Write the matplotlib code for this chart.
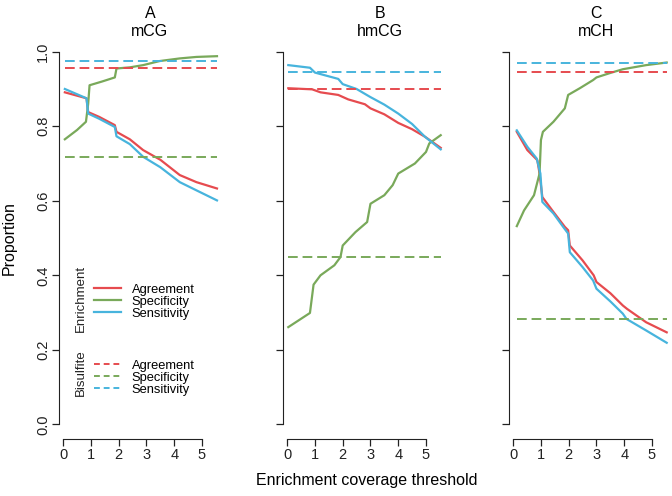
import matplotlib
matplotlib.use('Agg')
import matplotlib.pyplot as plt
from matplotlib.lines import Line2D

plt.rcParams['font.family'] = ['Liberation Sans', 'DejaVu Sans']

panels = ['A\nmCG', 'B\nhmCG', 'C\nmCH']
red = '#E64B4F'
green = '#79A95A'
blue = '#47B4DD'

# bisulfite reference levels (agreement, specificity, sensitivity)
bis_agree = [0.956, 0.900, 0.945]
bis_spec = [0.718, 0.448, 0.283]
bis_sens = [0.975, 0.946, 0.969]

# panel A - mCG
a_agree_x = [0.06, 0.84, 0.9, 1.3, 1.86, 1.92, 2.4, 2.88, 3.5, 4.2, 4.8, 5.54]
a_agree_y = [0.891, 0.875, 0.838, 0.825, 0.803, 0.785, 0.765, 0.736, 0.710, 0.669, 0.650, 0.633]
a_spec_x = [0.06, 0.5, 0.82, 0.9, 0.95, 1.4, 1.86, 1.92, 2.4, 2.88, 3.48, 4.2, 4.8, 5.54]
a_spec_y = [0.765, 0.790, 0.812, 0.860, 0.910, 0.920, 0.931, 0.955, 0.958, 0.964, 0.975, 0.982, 0.986, 0.988]
a_sens_x = [0.06, 0.84, 0.9, 1.3, 1.86, 1.92, 2.4, 2.88, 3.5, 4.2, 4.8, 5.54]
a_sens_y = [0.900, 0.875, 0.834, 0.820, 0.798, 0.773, 0.752, 0.718, 0.690, 0.650, 0.628, 0.601]

# panel B - hmCG
b_agree_x = [0.04, 0.9, 1.2, 1.84, 2.2, 2.8, 3.0, 3.5, 4.0, 4.5, 4.96, 5.53]
b_agree_y = [0.902, 0.899, 0.891, 0.884, 0.872, 0.859, 0.848, 0.832, 0.809, 0.792, 0.772, 0.742]
b_spec_x = [0.04, 0.82, 0.95, 1.2, 1.7, 1.92, 2.0, 2.46, 2.88, 3.0, 3.5, 3.8, 4.0, 4.6, 5.0, 5.12, 5.53]
b_spec_y = [0.261, 0.299, 0.375, 0.400, 0.427, 0.449, 0.480, 0.516, 0.543, 0.592, 0.615, 0.642, 0.673, 0.700, 0.731, 0.754, 0.776]
b_sens_x = [0.04, 0.82, 1.0, 1.84, 2.0, 2.5, 2.98, 3.5, 4.0, 4.5, 4.96, 5.53]
b_sens_y = [0.964, 0.957, 0.944, 0.927, 0.913, 0.900, 0.879, 0.858, 0.834, 0.806, 0.772, 0.738]

# panel C - mCH
c_agree_x = [0.13, 0.51, 0.87, 0.95, 1.05, 1.45, 1.86, 1.98, 2.04, 2.5, 2.9, 3.0, 3.5, 3.95, 4.1, 4.79, 5.53]
c_agree_y = [0.785, 0.736, 0.709, 0.673, 0.610, 0.570, 0.530, 0.521, 0.480, 0.440, 0.400, 0.382, 0.352, 0.319, 0.310, 0.274, 0.247]
c_spec_x = [0.13, 0.39, 0.75, 0.95, 1.0, 1.07, 1.45, 1.86, 1.98, 2.4, 2.88, 3.0, 3.5, 3.95, 4.79, 5.53]
c_spec_y = [0.532, 0.574, 0.615, 0.673, 0.763, 0.785, 0.812, 0.848, 0.884, 0.902, 0.924, 0.931, 0.943, 0.953, 0.964, 0.971]
c_sens_x = [0.13, 0.51, 0.85, 0.98, 1.05, 1.45, 1.8, 1.98, 2.04, 2.5, 2.88, 3.0, 3.5, 3.95, 4.08, 4.79, 5.53]
c_sens_y = [0.789, 0.745, 0.713, 0.673, 0.597, 0.566, 0.530, 0.512, 0.462, 0.422, 0.386, 0.364, 0.330, 0.297, 0.283, 0.252, 0.219]

curves = [
    (a_agree_x, a_agree_y, a_spec_x, a_spec_y, a_sens_x, a_sens_y),
    (b_agree_x, b_agree_y, b_spec_x, b_spec_y, b_sens_x, b_sens_y),
    (c_agree_x, c_agree_y, c_spec_x, c_spec_y, c_sens_x, c_sens_y),
]

W, H = 672.0, 496.0
lefts = [59.3, 283.3, 509.3]
title_x = [150, 380, 596]
top, bottom = 36.8, 439.3
width = 181.0
dash = (0, (5, 2.5))

fig = plt.figure(figsize=(6.72, 4.96), dpi=100)

for i in range(3):
    ax = fig.add_axes([lefts[i] / W, 1 - bottom / H, width / W, (bottom - top) / H])
    ag_x, ag_y, sp_x, sp_y, se_x, se_y = curves[i]
    ax.plot(ag_x, ag_y, color=red, lw=1.6)
    ax.plot(sp_x, sp_y, color=green, lw=1.6)
    ax.plot(se_x, se_y, color=blue, lw=1.6)
    x0, x1 = ag_x[0], ag_x[-1]
    ax.hlines(bis_agree[i], x0, x1, color=red, lw=1.4, linestyles=dash)
    ax.hlines(bis_spec[i], x0, x1, color=green, lw=1.4, linestyles=dash)
    ax.hlines(bis_sens[i], x0, x1, color=blue, lw=1.4, linestyles=dash)

    ax.set_xlim(-0.14, 6.38)
    ax.set_ylim(-0.04, 1.04)
    for s in ['top', 'right']:
        ax.spines[s].set_visible(False)
    ax.spines['left'].set_bounds(0, 1)
    ax.spines['bottom'].set_bounds(0, 5)
    ax.spines['left'].set_color('#222222')
    ax.spines['bottom'].set_color('#222222')
    ax.set_xticks([0, 1, 2, 3, 4, 5])
    ax.set_yticks([0, 0.2, 0.4, 0.6, 0.8, 1.0])
    ax.tick_params(direction='out', length=5, width=0.9, colors='#222222', labelsize=10.5, pad=1.5)
    if i == 0:
        ax.set_yticklabels(['0.0', '0.2', '0.4', '0.6', '0.8', '1.0'], rotation=90, va='center')
        ax.set_ylabel('Proportion', fontsize=11.5, labelpad=14)
    else:
        ax.set_yticklabels([])
    fig.text(title_x[i] / W, 1 - 13 / H, panels[i].split('\n')[0], ha='center', va='center', fontsize=11.5)
    fig.text(title_x[i] / W, 1 - 32 / H, panels[i].split('\n')[1], ha='center', va='center', fontsize=11.5)

    if i == 0:
        enr = [Line2D([], [], color=c, lw=1.6) for c in (red, green, blue)]
        bis = [Line2D([], [], color=c, lw=1.4, ls=(0, (3, 2))) for c in (red, green, blue)]
        names = ['Agreement', 'Specificity', 'Sensitivity']
        leg1 = ax.legend(enr, names, loc='upper left', bbox_to_anchor=(0.165, 0.399),
                         frameon=False, fontsize=9.3, handlelength=2.1, handletextpad=0.8,
                         labelspacing=0.0, borderaxespad=0)
        ax.add_artist(leg1)
        ax.legend(bis, names, loc='upper left', bbox_to_anchor=(0.165, 0.211),
                  frameon=False, fontsize=9.3, handlelength=2.1, handletextpad=0.8,
                  labelspacing=0.0, borderaxespad=0)
        fig.text(81 / W, 1 - 298 / H, 'Enrichment', rotation=90, ha='center', va='center',
                 fontsize=9.5, color='#222222')
        fig.text(81 / W, 1 - 373 / H, 'Bisulfite', rotation=90, ha='center', va='center',
                 fontsize=9.5, color='#222222')

fig.text(367 / W, 1 - 481 / H, 'Enrichment coverage threshold', ha='center', va='center', fontsize=11.5)

plt.savefig('out.png', dpi=100)
